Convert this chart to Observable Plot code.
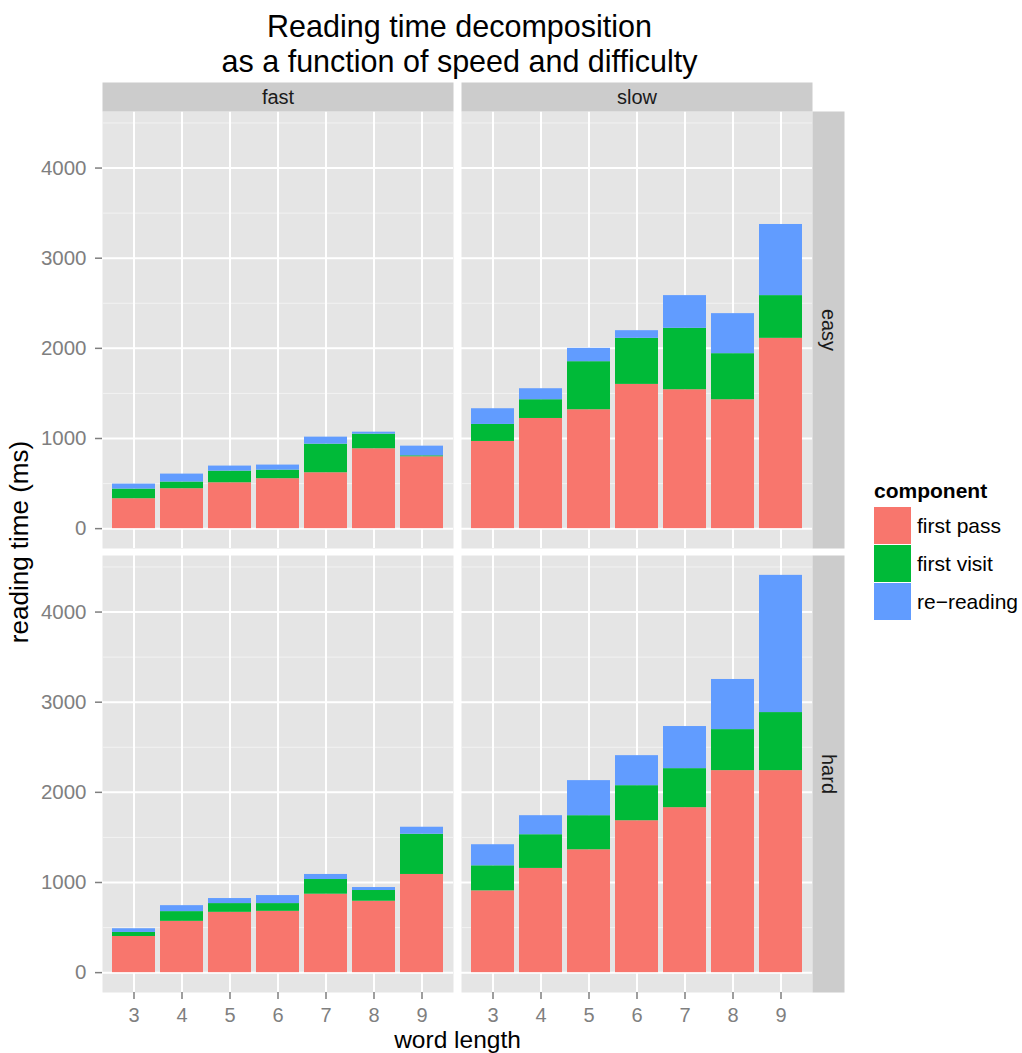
<!DOCTYPE html>
<html><head><meta charset="utf-8">
<script src="https://cdn.jsdelivr.net/npm/d3@7"></script>
<script src="https://cdn.jsdelivr.net/npm/@observablehq/plot@0.6"></script>
<style>body{margin:0;background:#fff} svg{display:block}</style>
</head><body><div id="chart"></div>
<script>
const lengths = [3, 4, 5, 6, 7, 8, 9];
const speeds = ["fast", "slow"];
const difficulties = ["easy", "hard"];
const components = ["first pass", "first visit", "re\u2212reading"];
const componentColors = ["#F8766D", "#00BA38", "#619CFF"];

const fastEasyFirstPass  = [332, 443, 509, 554, 620, 886, 797];
const fastEasyFirstVisit = [107, 74, 129, 95, 317, 162, 11];
const fastEasyReReading  = [55, 88, 56, 56, 78, 22, 107];

const slowEasyFirstPass  = [967, 1222, 1319, 1600, 1541, 1430, 2111];
const slowEasyFirstVisit = [189, 208, 533, 511, 681, 511, 474];
const slowEasyReReading  = [174, 122, 148, 85, 363, 444, 789];

const fastHardFirstPass  = [401, 569, 669, 680, 870, 792, 1089];
const fastHardFirstVisit = [45, 108, 97, 86, 163, 119, 446];
const fastHardReReading  = [41, 66, 56, 89, 56, 33, 78];

const slowHardFirstPass  = [907, 1156, 1363, 1685, 1830, 2241, 2241];
const slowHardFirstVisit = [278, 374, 378, 389, 433, 455, 644];
const slowHardReReading  = [234, 211, 389, 333, 467, 556, 1522];

const majorTicks = [0, 1000, 2000, 3000, 4000];
const minorTicks = [500, 1500, 2500, 3500, 4500];

const titleLines = ["Reading time decomposition", "as a function of speed and difficulty"];
const xTitle = "word length";
const yTitle = "reading time (ms)";
const legendTitle = "component";

(function () {
const panels = [
  {speed: "fast", difficulty: "easy", series: [fastEasyFirstPass, fastEasyFirstVisit, fastEasyReReading]},
  {speed: "slow", difficulty: "easy", series: [slowEasyFirstPass, slowEasyFirstVisit, slowEasyReReading]},
  {speed: "fast", difficulty: "hard", series: [fastHardFirstPass, fastHardFirstVisit, fastHardReReading]},
  {speed: "slow", difficulty: "hard", series: [slowHardFirstPass, slowHardFirstVisit, slowHardReReading]}
];
const rows = [];
for (const p of panels) {
  components.forEach((c, ci) => {
    lengths.forEach((L, i) => rows.push({speed: p.speed, difficulty: p.difficulty, length: L, component: c, value: p.series[ci][i]}));
  });
}
let yMax = 0;
for (const p of panels) lengths.forEach((L, i) => { yMax = Math.max(yMax, p.series[0][i] + p.series[1][i] + p.series[2][i]); });
const yMin = 0;
const pad = 0.05 * (yMax - yMin);

const FONT = "'Liberation Sans', Arial, Helvetica, sans-serif";
const plot = Plot.plot({
  width: 1022, height: 1053,
  marginLeft: 101, marginRight: 210, marginTop: 111, marginBottom: 61,
  style: {fontFamily: FONT, fontSize: "20px", background: "#fff", overflow: "visible"},
  fx: {domain: speeds, paddingInner: 0.0225, paddingOuter: 0, axis: null, label: null},
  fy: {domain: difficulties, paddingInner: 0.016, paddingOuter: 0, axis: null, label: null},
  x: {domain: lengths, type: "band", paddingInner: 0.1, paddingOuter: 0.15, label: null},
  y: {domain: [yMin - pad, yMax + pad], label: null},
  color: {domain: components, range: componentColors},
  marks: [
    Plot.frame({fill: "#E5E5E5", stroke: "none"}),
    Plot.gridY({ticks: minorTicks, stroke: "#F2F2F2", strokeOpacity: 1, strokeWidth: 1}),
    Plot.gridY({ticks: majorTicks, stroke: "#FFFFFF", strokeOpacity: 1, strokeWidth: 2}),
    Plot.gridX({stroke: "#FFFFFF", strokeOpacity: 1, strokeWidth: 2}),
    Plot.barY(rows, Plot.stackY({x: "length", y: "value", fill: "component", fx: "speed", fy: "difficulty", order: components, inset: 0})),
    Plot.axisX({tickSize: 7, tickPadding: 8, fontSize: 20, color: "#7F7F7F", strokeWidth: 1.5, label: null}),
    Plot.axisY({ticks: majorTicks, tickSize: 7, tickPadding: 9, fontSize: 20.5, color: "#7F7F7F", strokeWidth: 1.5, label: null, tickFormat: d => String(d)})
  ]
});
document.getElementById("chart").appendChild(plot);

const svgBox = plot.getBoundingClientRect();
const frames = Array.from(plot.querySelectorAll('g[aria-label="frame"] rect')).map(r => {
  const b = r.getBoundingClientRect();
  return {x0: b.left - svgBox.left, y0: b.top - svgBox.top, x1: b.right - svgBox.left, y1: b.bottom - svgBox.top};
});
const colX = Array.from(new Set(frames.map(f => Math.round(f.x0)))).sort((a, b) => a - b);
const rowY = Array.from(new Set(frames.map(f => Math.round(f.y0)))).sort((a, b) => a - b);
const cols = colX.map(x => frames.find(f => Math.round(f.x0) === x));
const rws = rowY.map(y => frames.find(f => Math.round(f.y0) === y));
const pLeft = cols[0].x0, pRight = cols[cols.length - 1].x1;
const pTop = rws[0].y0, pBottom = rws[rws.length - 1].y1;

const svg = d3.select(plot);
const deco = svg.append("g").attr("font-family", FONT).attr("text-anchor", "start");

const stripH = 29;
cols.forEach((c, i) => {
  deco.append("rect").attr("x", c.x0).attr("y", pTop - stripH).attr("width", c.x1 - c.x0).attr("height", stripH).attr("fill", "#CCCCCC");
  deco.append("text").attr("x", (c.x0 + c.x1) / 2).attr("y", pTop - stripH / 2).attr("text-anchor", "middle")
    .attr("dominant-baseline", "central").attr("font-size", 20).attr("fill", "#1A1A1A").text(speeds[i]);
});
const stripW = 32;
rws.forEach((r, j) => {
  deco.append("rect").attr("x", pRight).attr("y", r.y0).attr("width", stripW).attr("height", r.y1 - r.y0).attr("fill", "#CCCCCC");
  deco.append("text").attr("transform", `translate(${pRight + stripW / 2},${(r.y0 + r.y1) / 2}) rotate(90)`)
    .attr("text-anchor", "middle").attr("dominant-baseline", "central").attr("font-size", 20).attr("fill", "#1A1A1A").text(difficulties[j]);
});

titleLines.forEach((t, i) => {
  deco.append("text").attr("x", (pLeft + pRight) / 2 + 2).attr("y", 37 + i * 35).attr("text-anchor", "middle")
    .attr("font-size", 30.5).attr("fill", "#000").text(t);
});
deco.append("text").attr("x", (pLeft + pRight) / 2).attr("y", 1047.5).attr("text-anchor", "middle")
  .attr("font-size", 24.5).attr("fill", "#000").text(xTitle);
deco.append("text").attr("transform", `translate(28,${(pTop + pBottom) / 2 - 10}) rotate(-90)`).attr("text-anchor", "middle")
  .attr("font-size", 26).attr("fill", "#000").text(yTitle);

const color = plot.scale("color");
const lx = 874, ly = 507, key = 37, gap = 1;
deco.append("text").attr("x", lx).attr("y", 498).attr("text-anchor", "start").attr("font-size", 21).attr("font-weight", "bold").attr("fill", "#000").text(legendTitle);
color.domain.forEach((d, i) => {
  const y = ly + i * (key + gap);
  deco.append("rect").attr("x", lx).attr("y", y).attr("width", key).attr("height", key).attr("fill", color.range[i]);
  deco.append("text").attr("x", lx + key + 6).attr("y", y + key / 2).attr("text-anchor", "start").attr("dominant-baseline", "central")
    .attr("font-size", 21).attr("fill", "#000").text(d);
});
})();
</script>
</body></html>
